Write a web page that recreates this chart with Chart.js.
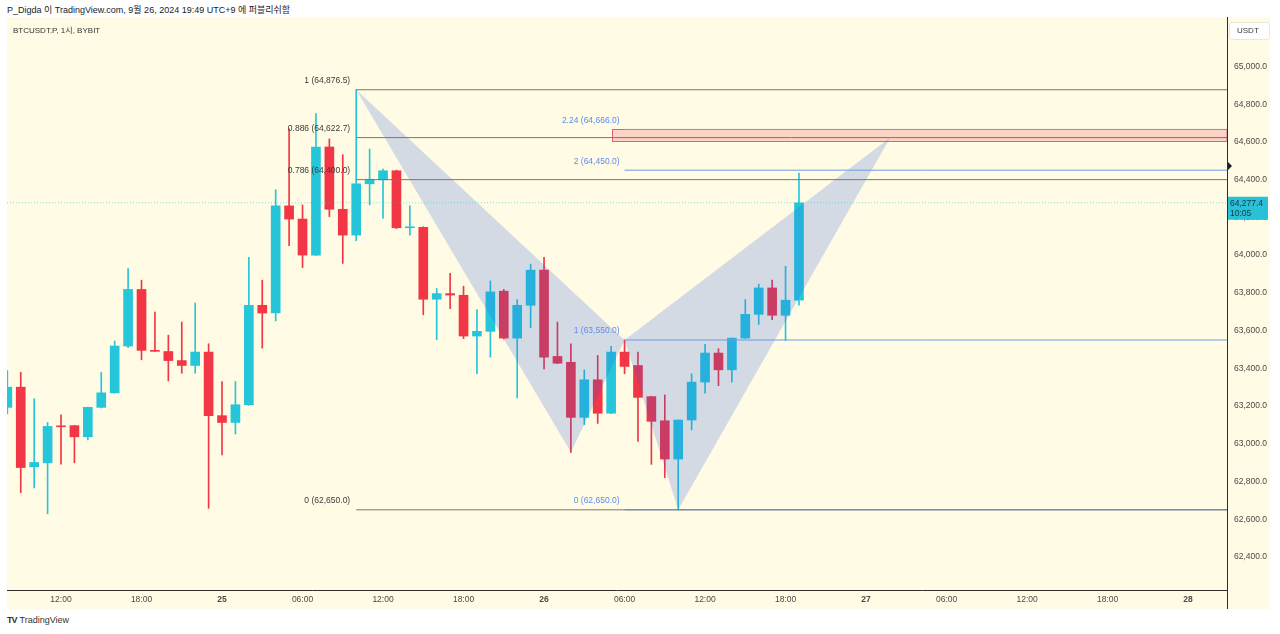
<!DOCTYPE html>
<html>
<head>
<meta charset="utf-8">
<script src="https://cdn.jsdelivr.net/npm/chart.js@4.4.1/dist/chart.umd.min.js"></script>
<style>
html, body { margin: 0; padding: 0; background: #fff; width: 1280px; height: 634px; overflow: hidden;
  font-family: "Liberation Sans", "Noto Sans CJK KR", sans-serif; }
#head { position: absolute; left: 7px; top: 3px; font-size: 9px; color: #222; white-space: nowrap; }
#wrap { position: absolute; left: 7px; top: 17px; width: 1263px; height: 592px; }
#title { position: absolute; left: 13px; top: 24px; font-size: 8px; color: #333; white-space: nowrap; }
#logo { position: absolute; left: 7px; top: 615px; font-size: 9px; color: #333; white-space: nowrap; }
#logo b { font-size: 9px; letter-spacing: -1px; margin-right: 3px; }
</style>
</head>
<body>
<div id="head">P_Digda 이 TradingView.com, 9월 26, 2024 19:49 UTC+9 에 퍼블리쉬함</div>
<div id="wrap"><canvas id="chart"></canvas></div>
<div id="title">BTCUSDT.P, 1시, BYBIT</div>
<div id="logo"><b>TV</b>TradingView</div>
<script>
// Candles: hours counted from 24 Sep 00:00 (1h bars, BTCUSDT.P BYBIT)
const hours = [8, 9, 10, 11, 12, 13, 14, 15, 16, 17, 18, 19, 20, 21, 22, 23, 24, 25, 26, 27,
  28, 29, 30, 31, 32, 33, 34, 35, 36, 37, 38, 39, 40, 41, 42, 43, 44, 45, 46, 47,
  48, 49, 50, 51, 52, 53, 54, 55, 56, 57, 58, 59, 60, 61, 62, 63, 64, 65, 66, 67];
const opens = [63193, 63300, 62878, 62899, 63095, 63096, 63037, 63193, 63270, 63518, 63818, 63495, 63489, 63441, 63415, 63486, 63149, 63113, 63207, 63734,
  63693, 64261, 64191, 64000, 64573, 64243, 64106, 64378, 64399, 64447, 64145, 64147, 63766, 63796, 63787, 63571, 63596, 63809, 63560, 63734,
  63920, 63463, 63432, 63140, 63339, 63162, 63486, 63415, 63250, 63122, 62919, 63126, 63327, 63481, 63392, 63560, 63686, 63826, 63681, 63761];
const highs = [63388, 63379, 63239, 63113, 63154, 63098, 63195, 63379, 63544, 63929, 63867, 63698, 63576, 63645, 63746, 63530, 63330, 63330, 63988, 63867,
  64346, 64669, 64266, 64750, 64616, 64532, 64876.5, 64562, 64456, 64450, 64261, 64150, 63823, 63903, 63835, 63711, 63863, 63818, 63764, 63952,
  63988, 63645, 63530, 63392, 63468, 63516, 63550, 63486, 63252, 63259, 63126, 63371, 63527, 63504, 63560, 63764, 63846, 63867, 63941, 64435];
const lows = [63158, 62741, 62766, 62629, 62892, 62899, 63021, 63190, 63268, 63509, 63445, 63488, 63333, 63374, 63374, 62658, 62941, 63052, 63203, 63507,
  63651, 64050, 63934, 63998, 64204, 63956, 64076, 64266, 64195, 64140, 64106, 63684, 63552, 63716, 63557, 63371, 63459, 63555, 63243, 63615,
  63397, 63425, 62954, 63101, 63108, 63160, 63371, 63012, 62891, 62821, 62650, 63073, 63268, 63308, 63326, 63558, 63633, 63658, 63548, 63734];
const closes = [63300, 62874, 62901, 63092, 63090, 63037, 63193, 63270, 63518, 63818, 63495, 63490, 63441, 63415, 63486, 63149, 63113, 63207, 63734, 63693,
  64261, 64191, 64000, 64573, 64243, 64106, 64378, 64402, 64447, 64145, 64150, 63766, 63796, 63788, 63571, 63596, 63805, 63560, 63734, 63920,
  63459, 63427, 63140, 63339, 63162, 63486, 63410, 63246, 63119, 62919, 63126, 63327, 63481, 63392, 63560, 63686, 63826, 63681, 63761, 64277.4];

// Axis ticks
const tickHours = [12, 18, 24, 30, 36, 42, 48, 54, 60, 66, 72, 78, 84, 90, 96];
const tickLabels = ["12:00", "18:00", "25", "06:00", "12:00", "18:00", "26", "06:00", "12:00", "18:00", "27", "06:00", "12:00", "18:00", "28"];
const priceTicks = [62400, 62600, 62800, 63000, 63200, 63400, 63600, 63800, 64000, 64200, 64400, 64600, 64800, 65000];

// Harmonic pattern X A B C D
const patternHours = [34, 50, 54, 58, 73.8];
const patternPrices = [64876.5, 62955, 63550, 62650, 64622.7];

// Fib retracement (gray) and extension (blue)
const fibStart = 34;
const fibLabels = ["1", "0.886", "0.786", "0"];
const fibPrices = [64876.5, 64622.7, 64400.0, 62650.0];
const extStart = 54;
const extLabels = ["2.24", "2", "1", "0"];
const extPrices = [64666.0, 64450.0, 63550.0, 62650.0];

// Target zone box
const zoneStart = 53.1;
const zonePrices = [64666, 64605];

const lastPrice = 64277.4;
const countdown = "10:05";
const alertPrice = 64472;

const X_MIN = 7.975, X_MAX = 98.9;
const FONT = '"Liberation Sans", "Noto Sans", sans-serif';
const UP = "#26c6da", DOWN = "#f23645";
const candleColors = hours.map((h, i) => closes[i] >= opens[i] ? UP : DOWN);

function fmt(v) {
  return v.toLocaleString("en-US", { minimumFractionDigits: 1, maximumFractionDigits: 1 });
}

function hLine(start, price, color, dash) {
  return {
    type: "line",
    data: [{ x: start, y: price }, { x: X_MAX, y: price }],
    borderColor: color,
    borderWidth: 1,
    borderDash: dash || [],
    pointRadius: 0,
    order: 1
  };
}

const datasets = [
  {
    type: "bar",
    data: hours.map((h, i) => ({ x: h, y: [lows[i], highs[i]] })),
    backgroundColor: candleColors,
    barThickness: 1,
    grouped: false,
    order: 11
  },
  {
    type: "bar",
    data: hours.map((h, i) => ({ x: h, y: [opens[i], closes[i]] })),
    backgroundColor: candleColors,
    barThickness: 9,
    minBarLength: 1,
    grouped: false,
    order: 10
  },
  hLine(X_MIN, lastPrice, "rgba(38,198,218,0.55)", [1, 2])
];
fibPrices.forEach(p => datasets.push(hLine(fibStart, p, "#7a7868")));
extPrices.forEach(p => datasets.push(hLine(extStart, p, "#6f9be8")));

// Pattern triangles and zone box, drawn right after the candle bodies
const overlayPlugin = {
  id: "overlay",
  afterDatasetDraw(chart, args) {
    if (args.index !== 1) return;
    const ctx = chart.ctx, xs = chart.scales.x, ys = chart.scales.y, area = chart.chartArea;
    const pts = patternHours.map((h, i) => [xs.getPixelForValue(h), ys.getPixelForValue(patternPrices[i])]);
    ctx.save();
    ctx.beginPath();
    ctx.rect(area.left, area.top, area.right - area.left, area.bottom - area.top);
    ctx.clip();
    ctx.fillStyle = "rgba(40,91,228,0.2)";
    [[0, 1, 2], [2, 3, 4]].forEach(tri => {
      ctx.beginPath();
      ctx.moveTo(pts[tri[0]][0], pts[tri[0]][1]);
      ctx.lineTo(pts[tri[1]][0], pts[tri[1]][1]);
      ctx.lineTo(pts[tri[2]][0], pts[tri[2]][1]);
      ctx.closePath();
      ctx.fill();
    });
    const zx = xs.getPixelForValue(zoneStart);
    const zt = ys.getPixelForValue(zonePrices[0]), zb = ys.getPixelForValue(zonePrices[1]);
    ctx.fillStyle = "rgba(242,54,69,0.2)";
    ctx.fillRect(zx, zt, area.right - zx, zb - zt);
    ctx.strokeStyle = "rgba(220,60,90,0.8)";
    ctx.lineWidth = 1;
    ctx.strokeRect(Math.round(zx) + 0.5, Math.round(zt) + 0.5, area.right - zx, Math.round(zb - zt));
    ctx.restore();
  },
  afterDatasetsDraw(chart) {
    const ctx = chart.ctx, xs = chart.scales.x, ys = chart.scales.y;
    ctx.save();
    ctx.font = "8.5px " + FONT;
    ctx.textAlign = "right";
    ctx.textBaseline = "middle";
    ctx.fillStyle = "#3c3c3c";
    fibPrices.forEach((p, i) => {
      ctx.fillText(fibLabels[i] + " (" + fmt(p) + ")", xs.getPixelForValue(fibStart) - 6, ys.getPixelForValue(p) - 9);
    });
    ctx.fillStyle = "#5b8def";
    extPrices.forEach((p, i) => {
      ctx.fillText(extLabels[i] + " (" + fmt(p) + ")", xs.getPixelForValue(extStart) - 5, ys.getPixelForValue(p) - 9);
    });
    ctx.restore();
  },
  beforeDraw(chart) {
    const ctx = chart.ctx;
    ctx.save();
    ctx.fillStyle = "#fffbe4";
    ctx.fillRect(0, 0, chart.width, chart.height);
    ctx.restore();
  },
  afterDraw(chart) {
    const ctx = chart.ctx, ys = chart.scales.y, area = chart.chartArea;
    ctx.save();
    // axis frame
    ctx.strokeStyle = "#2e2e2e";
    ctx.lineWidth = 1;
    ctx.beginPath();
    ctx.moveTo(Math.round(area.right) + 0.5, 0);
    ctx.lineTo(Math.round(area.right) + 0.5, chart.height);
    ctx.moveTo(0, Math.round(area.bottom) + 0.5);
    ctx.lineTo(Math.round(area.right) + 1, Math.round(area.bottom) + 0.5);
    ctx.stroke();
    // alert marker
    const ay = ys.getPixelForValue(alertPrice);
    ctx.fillStyle = "#1e1e1e";
    ctx.beginPath();
    ctx.moveTo(area.right + 1, ay - 4);
    ctx.lineTo(area.right + 5, ay);
    ctx.lineTo(area.right + 1, ay + 4);
    ctx.closePath();
    ctx.fill();
    // last price tag
    const py = ys.getPixelForValue(lastPrice);
    ctx.fillStyle = "#29c0d8";
    ctx.fillRect(area.right + 1, py - 6, 40, 23);
    ctx.fillStyle = "#123844";
    ctx.font = "8.5px " + FONT;
    ctx.textAlign = "left";
    ctx.textBaseline = "middle";
    ctx.fillText(fmt(lastPrice), area.right + 3, py + 1);
    ctx.fillText(countdown, area.right + 3, py + 11);
    // currency box
    ctx.fillStyle = "#ffffff";
    ctx.strokeStyle = "#ece9d8";
    ctx.beginPath();
    ctx.roundRect(area.right + 2.5, 5.5, 40, 17, 2);
    ctx.fill();
    ctx.stroke();
    ctx.fillStyle = "#3a3a3a";
    ctx.font = "8px " + FONT;
    ctx.fillText("USDT", area.right + 10, 14);
    ctx.restore();
  }
};

new Chart(document.getElementById("chart"), {
  type: "bar",
  data: { datasets: datasets },
  options: {
    responsive: true,
    maintainAspectRatio: false,
    animation: false,
    layout: { padding: 0 },
    plugins: { legend: { display: false }, tooltip: { enabled: false } },
    scales: {
      x: {
        type: "linear",
        min: X_MIN,
        max: X_MAX,
        offset: false,
        grid: { display: false, drawTicks: false, offset: false },
        border: { display: false },
        afterBuildTicks: s => { s.ticks = tickHours.map(v => ({ value: v })); },
        afterFit: s => { s.height = 19; s.paddingLeft = 0; s.paddingRight = 0; },
        ticks: {
          autoSkip: false,
          maxRotation: 0,
          padding: 5,
          color: "#4a4a4a",
          font: c => ({ family: FONT, size: 8.5, weight: /:/.test(tickLabels[tickHours.indexOf(c.tick && c.tick.value)] || ":") ? "normal" : "bold" }),
          callback: v => tickLabels[tickHours.indexOf(v)]
        }
      },
      y: {
        type: "linear",
        position: "right",
        min: 62225,
        max: 65262,
        grid: { display: false, drawTicks: false },
        border: { display: false },
        afterBuildTicks: s => { s.ticks = priceTicks.map(v => ({ value: v })); },
        afterFit: s => { s.width = 43; s.paddingTop = 0; s.paddingBottom = 0; },
        ticks: {
          padding: 7,
          color: "#4a4a4a",
          font: { family: FONT, size: 8.5 },
          callback: v => fmt(v)
        }
      }
    }
  },
  plugins: [overlayPlugin]
});
</script>
</body>
</html>
